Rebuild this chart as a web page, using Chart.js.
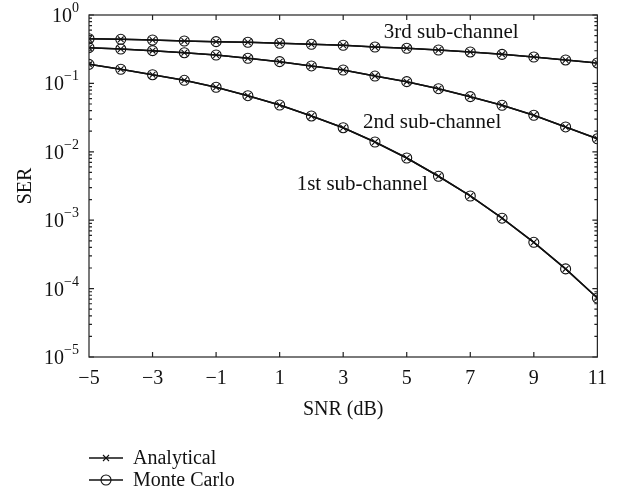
<!DOCTYPE html>
<html>
<head>
<meta charset="utf-8">
<script src="https://cdn.jsdelivr.net/npm/chart.js@4"></script>
<style>
html, body { margin: 0; padding: 0; background: #fff; }
</style>
</head>
<body>
<canvas id="serChart" width="617" height="501"></canvas>
<script>
var snrValues = [-5, -4, -3, -2, -1, 0, 1, 2, 3, 4, 5, 6, 7, 8, 9, 10, 11];
var ser1st = [0.190, 0.161, 0.134, 0.111, 0.0877, 0.0661, 0.0483, 0.0334, 0.0225, 0.0139,
              0.00812, 0.00439, 0.00226, 0.00107, 0.000475, 0.000194, 0.0000729];
var ser2nd = [0.333, 0.318, 0.301, 0.281, 0.260, 0.233, 0.208, 0.180, 0.157, 0.128,
              0.106, 0.0837, 0.0640, 0.0479, 0.0342, 0.0231, 0.0155];
var ser3rd = [0.450, 0.441, 0.431, 0.417, 0.408, 0.399, 0.386, 0.373, 0.361, 0.340,
              0.326, 0.308, 0.288, 0.266, 0.243, 0.220, 0.199];
var xTickValues = [-5, -3, -1, 1, 3, 5, 7, 9, 11];
var yTickExponents = [0, -1, -2, -3, -4, -5];
var curveLabels = ["1st sub-channel", "2nd sub-channel", "3rd sub-channel"];
var curveLabelSnr = [3.6, 5.8, 6.4];
var curveLabelSer = [0.0033, 0.027, 0.56];
var legendNames = ["Analytical", "Monte Carlo"];

var SERIF = "'Liberation Serif', 'DejaVu Serif', serif";
var INK = "#111";

function toPoints(values) {
    return snrValues.map(function(s, i) { return { x: s, y: values[i] }; });
}

function makeSet(values, style) {
    return {
        data: toPoints(values),
        borderColor: INK,
        backgroundColor: "rgba(0,0,0,0)",
        borderWidth: 1.5,
        pointStyle: style,
        pointRadius: style === "circle" ? 5 : 4,
        pointBorderWidth: 1.1,
        pointBorderColor: INK,
        pointBackgroundColor: "rgba(0,0,0,0)",
        tension: 0
    };
}

function minusLabel(v) {
    return v < 0 ? "\u2212" + Math.abs(v) : String(v);
}

// box, inward ticks, 10^n labels, curve labels and legend
var extrasPlugin = {
    id: "extras",
    afterDraw: function(chart) {
        var ctx = chart.ctx;
        var a = chart.chartArea;
        var xs = chart.scales.x;
        var ys = chart.scales.y;

        ctx.save();
        ctx.strokeStyle = "#222";
        ctx.lineWidth = 1.2;
        ctx.strokeRect(a.left, a.top, a.right - a.left, a.bottom - a.top);

        ctx.beginPath();
        xTickValues.forEach(function(v) {
            if (v === xTickValues[0] || v === xTickValues[xTickValues.length - 1]) return;
            var px = xs.getPixelForValue(v);
            ctx.moveTo(px, a.bottom); ctx.lineTo(px, a.bottom - 5);
            ctx.moveTo(px, a.top); ctx.lineTo(px, a.top + 5);
        });
        yTickExponents.forEach(function(e) {
            var base = Math.pow(10, e);
            var py = ys.getPixelForValue(base);
            ctx.moveTo(a.left, py); ctx.lineTo(a.left + 5, py);
            ctx.moveTo(a.right, py); ctx.lineTo(a.right - 5, py);
            if (e === 0) return;
            for (var k = 2; k <= 9; k++) {
                var my = ys.getPixelForValue(k * base);
                ctx.moveTo(a.left, my); ctx.lineTo(a.left + 3, my);
                ctx.moveTo(a.right, my); ctx.lineTo(a.right - 3, my);
            }
        });
        ctx.stroke();

        // y tick labels as 10 with a raised exponent
        ctx.fillStyle = INK;
        ctx.textBaseline = "alphabetic";
        yTickExponents.forEach(function(e) {
            var py = ys.getPixelForValue(Math.pow(10, e));
            var expText = minusLabel(e);
            ctx.font = "14px " + SERIF;
            var expW = ctx.measureText(expText).width;
            ctx.textAlign = "left";
            var right = a.left - 10;
            ctx.fillText(expText, right - expW, py - 3);
            ctx.font = "20px " + SERIF;
            ctx.textAlign = "right";
            ctx.fillText("10", right - expW, py + 7);
        });

        // curve labels
        ctx.font = "21px " + SERIF;
        ctx.textAlign = "center";
        ctx.textBaseline = "middle";
        curveLabels.forEach(function(t, i) {
            ctx.fillText(t, xs.getPixelForValue(curveLabelSnr[i]), ys.getPixelForValue(curveLabelSer[i]));
        });

        // legend below the plot
        ctx.font = "20px " + SERIF;
        ctx.textAlign = "left";
        legendNames.forEach(function(name, i) {
            var ly = 458 + i * 22;
            var lx = a.left;
            ctx.strokeStyle = INK;
            ctx.lineWidth = 1.5;
            ctx.beginPath();
            ctx.moveTo(lx, ly); ctx.lineTo(lx + 34, ly);
            ctx.stroke();
            ctx.lineWidth = 1.1;
            ctx.beginPath();
            var cx = lx + 17;
            if (i === 0) {
                ctx.moveTo(cx - 3, ly - 3); ctx.lineTo(cx + 3, ly + 3);
                ctx.moveTo(cx - 3, ly + 3); ctx.lineTo(cx + 3, ly - 3);
            } else {
                ctx.arc(cx, ly, 5, 0, Math.PI * 2);
            }
            ctx.stroke();
            ctx.fillText(name, lx + 44, ly + 1);
        });
        ctx.restore();
    }
};

new Chart(document.getElementById("serChart"), {
    type: "line",
    data: {
        datasets: [
            makeSet(ser1st, "crossRot"), makeSet(ser1st, "circle"),
            makeSet(ser2nd, "crossRot"), makeSet(ser2nd, "circle"),
            makeSet(ser3rd, "crossRot"), makeSet(ser3rd, "circle")
        ]
    },
    options: {
        responsive: false,
        animation: false,
        layout: { padding: { top: 15, right: 8, bottom: 77, left: 0 } },
        plugins: { legend: { display: false }, tooltip: { enabled: false } },
        scales: {
            x: {
                type: "linear",
                min: -5,
                max: 11,
                afterBuildTicks: function(s) { s.ticks = xTickValues.map(function(v) { return { value: v }; }); },
                afterFit: function(s) { s.height = 67; },
                grid: { display: false, drawTicks: false },
                border: { display: false },
                ticks: {
                    padding: 10,
                    color: INK,
                    maxRotation: 0,
                    autoSkip: false,
                    font: { family: SERIF, size: 20 },
                    callback: function(v) { return minusLabel(v); }
                },
                title: {
                    display: true,
                    text: "SNR (dB)",
                    color: INK,
                    font: { family: SERIF, size: 20 },
                    padding: { top: 0, bottom: 2 }
                }
            },
            y: {
                type: "logarithmic",
                min: 1e-5,
                max: 1,
                afterBuildTicks: function(s) {
                    s.ticks = yTickExponents.map(function(e) { return { value: Math.pow(10, e), major: true }; });
                },
                afterFit: function(s) { s.width = 89; },
                grid: { display: false, drawTicks: false },
                border: { display: false },
                ticks: { display: false },
                title: {
                    display: true,
                    text: "SER",
                    color: INK,
                    font: { family: SERIF, size: 20 },
                    padding: { top: 14, bottom: 4 }
                }
            }
        }
    },
    plugins: [extrasPlugin]
});
</script>
</body>
</html>
